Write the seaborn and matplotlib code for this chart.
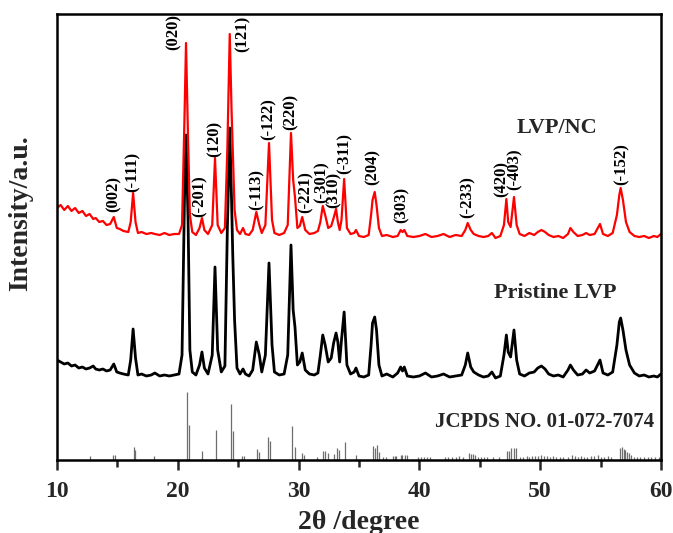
import numpy as np
import pandas as pd
import matplotlib
matplotlib.use("Agg")
import matplotlib.pyplot as plt
import seaborn as sns

# ---------------- data ----------------
# shared 2-theta vertices of the two measured patterns
two_theta = [10.0, 10.3, 10.6, 10.9, 11.2, 11.5, 11.8, 12.1, 12.4, 12.7, 13.0, 13.2, 13.5, 13.8,
             14.1, 14.4, 14.7, 14.95, 15.2, 15.5, 15.9, 16.1, 16.3, 16.5, 16.7, 17.0, 17.4, 17.8,
             18.1, 18.5, 18.9, 19.3, 19.7, 20.1, 20.35, 20.55, 20.68, 20.85, 21.0, 21.2, 21.5,
             21.8, 22.0, 22.2, 22.5, 22.85, 23.08, 23.3, 23.6, 23.9, 24.1, 24.3, 24.45, 24.55,
             24.7, 24.9, 25.15, 25.4, 25.6, 25.9, 26.2, 26.5, 26.75, 26.95, 27.25, 27.55, 27.8,
             28.0, 28.4, 28.8, 29.1, 29.37, 29.55, 29.7, 29.9, 30.1, 30.3, 30.55, 30.9, 31.3,
             31.6, 31.8, 32.0, 32.2, 32.45, 32.7, 32.9, 33.1, 33.25, 33.4, 33.55, 33.77, 34.0,
             34.3, 34.6, 34.75, 35.0, 35.4, 35.8, 36.0, 36.12, 36.3, 36.45, 36.65, 36.9, 37.3,
             37.8, 38.2, 38.45, 38.6, 38.75, 39.0, 39.5, 40.0, 40.5, 41.0, 41.5, 42.0, 42.5,
             43.0, 43.5, 43.8, 44.0, 44.25, 44.5, 44.9, 45.3, 45.7, 46.0, 46.3, 46.7, 47.0,
             47.2, 47.35, 47.55, 47.83, 48.05, 48.3, 48.7, 49.1, 49.5, 49.8, 50.1, 50.4, 50.7,
             51.1, 51.5, 51.9, 52.3, 52.5, 52.75, 53.1, 53.5, 53.8, 54.1, 54.5, 54.95, 55.2,
             55.6, 56.0, 56.35, 56.55, 56.66, 56.85, 57.1, 57.4, 57.8, 58.2, 58.6, 59.0, 59.4,
             59.7, 60.0]

lvp_nc = [30, 33, 28, 32, 27, 30, 25, 27, 22, 24, 19, 20, 16, 17,
          13, 14, 21, 10, 9, 7, 6, 16, 45, 16, 5, 6, 4, 5,
          4, 3, 5, 3, 4, 4, 13, 118, 195, 98, 23, 6, 3,
          10, 20, 8, 4, 13, 80, 13, 5, 10, 88, 204, 128, 88,
          28, 8, 4, 10, 4, 3, 8, 26, 13, 5, 13, 95, 18,
          5, 3, 5, 13, 105, 58, 41, 10, 12, 21, 8, 4, 5,
          7, 16, 32, 23, 10, 12, 20, 29, 16, 8, 18, 59, 10,
          4, 5, 8, 2, 1, 3, 23, 38, 46, 33, 10, 2, 3,
          1, 2, 8, 6, 8, 2, 1, 2, 4, 1, 2, 4, 1,
          3, 2, 8, 15, 8, 4, 2, 1, 2, 5, 0, 2, 13,
          39, 16, 11, 41, 13, 4, 2, 5, 3, 6, 8, 6, 3,
          1, 2, 0, 4, 10, 6, 2, 3, 5, 3, 4, 14, 4,
          2, 5, 23, 43, 50, 38, 16, 6, 2, 1, 2, 0, 2,
          1, 4]

pristine_lvp = [18, 16, 14, 15, 12, 13, 10, 11, 9, 10, 12, 9, 8, 9,
                7, 8, 14, 6, 5, 4, 3, 18, 49, 20, 3, 4, 2, 3,
                5, 2, 3, 2, 3, 4, 23, 178, 243, 158, 28, 6, 3,
                13, 26, 10, 4, 23, 111, 28, 6, 12, 148, 250, 178, 123,
                58, 10, 4, 9, 4, 2, 8, 36, 23, 6, 23, 115, 33,
                6, 3, 4, 23, 133, 68, 51, 13, 16, 25, 8, 4, 3,
                5, 23, 43, 33, 16, 20, 35, 45, 36, 16, 38, 66, 13,
                4, 6, 10, 2, 1, 3, 33, 55, 61, 48, 13, 2, 4,
                1, 5, 11, 7, 11, 2, 1, 2, 5, 1, 2, 4, 1,
                2, 3, 13, 25, 11, 6, 3, 1, 2, 6, 0, 2, 23,
                43, 26, 21, 48, 18, 4, 2, 5, 6, 10, 12, 9, 4,
                2, 3, 1, 8, 13, 8, 3, 4, 8, 5, 7, 18, 5,
                3, 6, 33, 56, 60, 48, 28, 13, 5, 2, 3, 1, 2,
                1, 4]

# JCPDS 01-072-7074 reference lines
jcpds_pos = [12.76, 14.64, 14.78, 16.35, 16.46, 18.06, 20.76, 20.93, 22.03, 23.16, 24.4, 24.6,
             25.34, 25.5, 26.53, 26.75, 27.5, 27.63, 29.43, 29.73, 30.3, 30.47, 31.55, 32.05,
             32.19, 32.46, 32.93, 33.15, 33.37, 33.87, 34.75, 36.13, 36.3, 36.46, 36.63, 36.96,
             37.23, 37.8, 37.95, 38.1, 38.45, 38.6, 38.8, 38.95, 39.85, 40.1, 40.35, 40.6,
             40.85, 42.1, 42.4, 42.7, 43.0, 43.3, 43.6, 44.1, 44.25, 44.4, 44.6, 44.85, 45.1,
             45.35, 45.6, 46.1, 46.6, 47.28, 47.45, 47.6, 47.8, 47.97, 48.3, 48.6, 48.9, 49.1,
             49.35, 49.6, 49.85, 50.1, 50.3, 50.55, 50.8, 51.1, 51.3, 51.6, 51.9, 52.3, 52.6,
             52.85, 53.1, 53.4, 53.6, 53.9, 54.2, 54.45, 54.75, 55.0, 55.3, 55.6, 55.9, 56.6,
             56.75, 56.9, 57.05, 57.2, 57.35, 57.5, 57.8, 58.05, 58.3, 58.6, 58.9, 59.2, 59.5,
             59.8]
jcpds_int = [4, 5, 5, 13, 10, 4, 68, 35, 9, 30, 56, 29,
             4, 4, 11, 8, 23, 19, 34, 13, 7, 5, 3, 9,
             9, 7, 6, 12, 10, 18, 5, 14, 12, 15, 8, 3,
             3, 4, 4, 4, 5, 5, 5, 5, 3, 3, 3, 3,
             3, 3, 3, 3, 3, 4, 3, 7, 6, 6, 5, 3, 3,
             3, 3, 3, 3, 9, 9, 12, 12, 12, 3, 3, 4, 3,
             4, 4, 4, 5, 4, 4, 3, 4, 3, 3, 3, 3, 5,
             4, 3, 4, 3, 3, 4, 4, 5, 3, 3, 4, 3, 12,
             13, 11, 10, 8, 7, 5, 3, 3, 3, 3, 3, 3, 3,
             3]

# Miller-index labels of the LVP/NC pattern
hkl_text = ["(002)", "(-111)", "(020)", "(-201)", "(120)", "(121)", "(-113)", "(-122)",
            "(220)", "(-221)", "(-301)", "(310)", "(-311)", "(204)", "(303)", "(-233)",
            "(420)", "(-403)", "(-152)"]
hkl_x = [14.72, 16.29, 19.69, 21.84, 23.08, 25.40, 26.56, 27.55, 29.37, 30.61, 31.94, 32.93,
         33.84, 36.16, 38.56, 44.02, 46.84, 47.91, 56.77]
hkl_y = [248, 268, 410, 243, 303, 408, 250, 320, 330, 247, 257, 252, 286, 275, 237, 242,
         263, 270, 275]

x_ticks = [10, 20, 30, 40, 50, 60]

# vertical offsets of the stacked patterns
offset_nc = 222
offset_pristine = 82

# ---------------- plotting ----------------
sns.set_style("ticks")
plt.rcParams["font.family"] = ["Liberation Serif", "DejaVu Serif"]
plt.rcParams["font.weight"] = "bold"

fig = plt.figure(figsize=(6.73, 5.33), dpi=100)
ax = fig.add_axes([57 / 673, 1 - 460 / 533, 604 / 673, 446 / 533])

df = pd.DataFrame({"two_theta": two_theta,
                   "LVP/NC": np.array(lvp_nc) + offset_nc,
                   "Pristine LVP": np.array(pristine_lvp) + offset_pristine})

ax.vlines(jcpds_pos, 0, jcpds_int, colors="#6e6e6e", linewidth=0.9)
sns.lineplot(data=df, x="two_theta", y="Pristine LVP", ax=ax, color="black",
             linewidth=2.0, sort=False, estimator=None)
sns.lineplot(data=df, x="two_theta", y="LVP/NC", ax=ax, color="#ff0000",
             linewidth=1.6, sort=False, estimator=None)

for t, xx, yy in zip(hkl_text, hkl_x, hkl_y):
    ax.text(xx, yy, t, rotation=90, ha="center", va="bottom", fontsize=12,
            fontweight="bold", color="black")

ax.text(51.39, 332, "LVP/NC", ha="center", va="center", fontsize=16, fontweight="bold")
ax.text(51.22, 167, "Pristine LVP", ha="center", va="center", fontsize=16, fontweight="bold")
ax.text(59.4, 38, "JCPDS NO. 01-072-7074", ha="right", va="center", fontsize=15,
        fontweight="bold")

ax.set_xlim(10, 60)
ax.set_ylim(0, 446)
ax.set_xticks(x_ticks)
ax.set_xticks([15, 25, 35, 45, 55], minor=True)
ax.set_yticks([])
ax.tick_params(axis="x", which="major", direction="out", length=7, width=1.8,
               labelsize=17, pad=8)
ax.tick_params(axis="x", which="minor", direction="out", length=5, width=1.8)
for lab in ax.get_xticklabels():
    lab.set_fontweight("bold")
for sp in ax.spines.values():
    sp.set_visible(True)
    sp.set_linewidth(1.8)
    sp.set_color("black")

ax.set_xlabel("2θ /degree", fontsize=20, fontweight="bold", labelpad=6)
ax.set_ylabel("Intensity/a.u.", fontsize=20, fontweight="bold")
ax.yaxis.set_label_coords(-0.04, 0.554)

fig.savefig("out.png", dpi=100)
